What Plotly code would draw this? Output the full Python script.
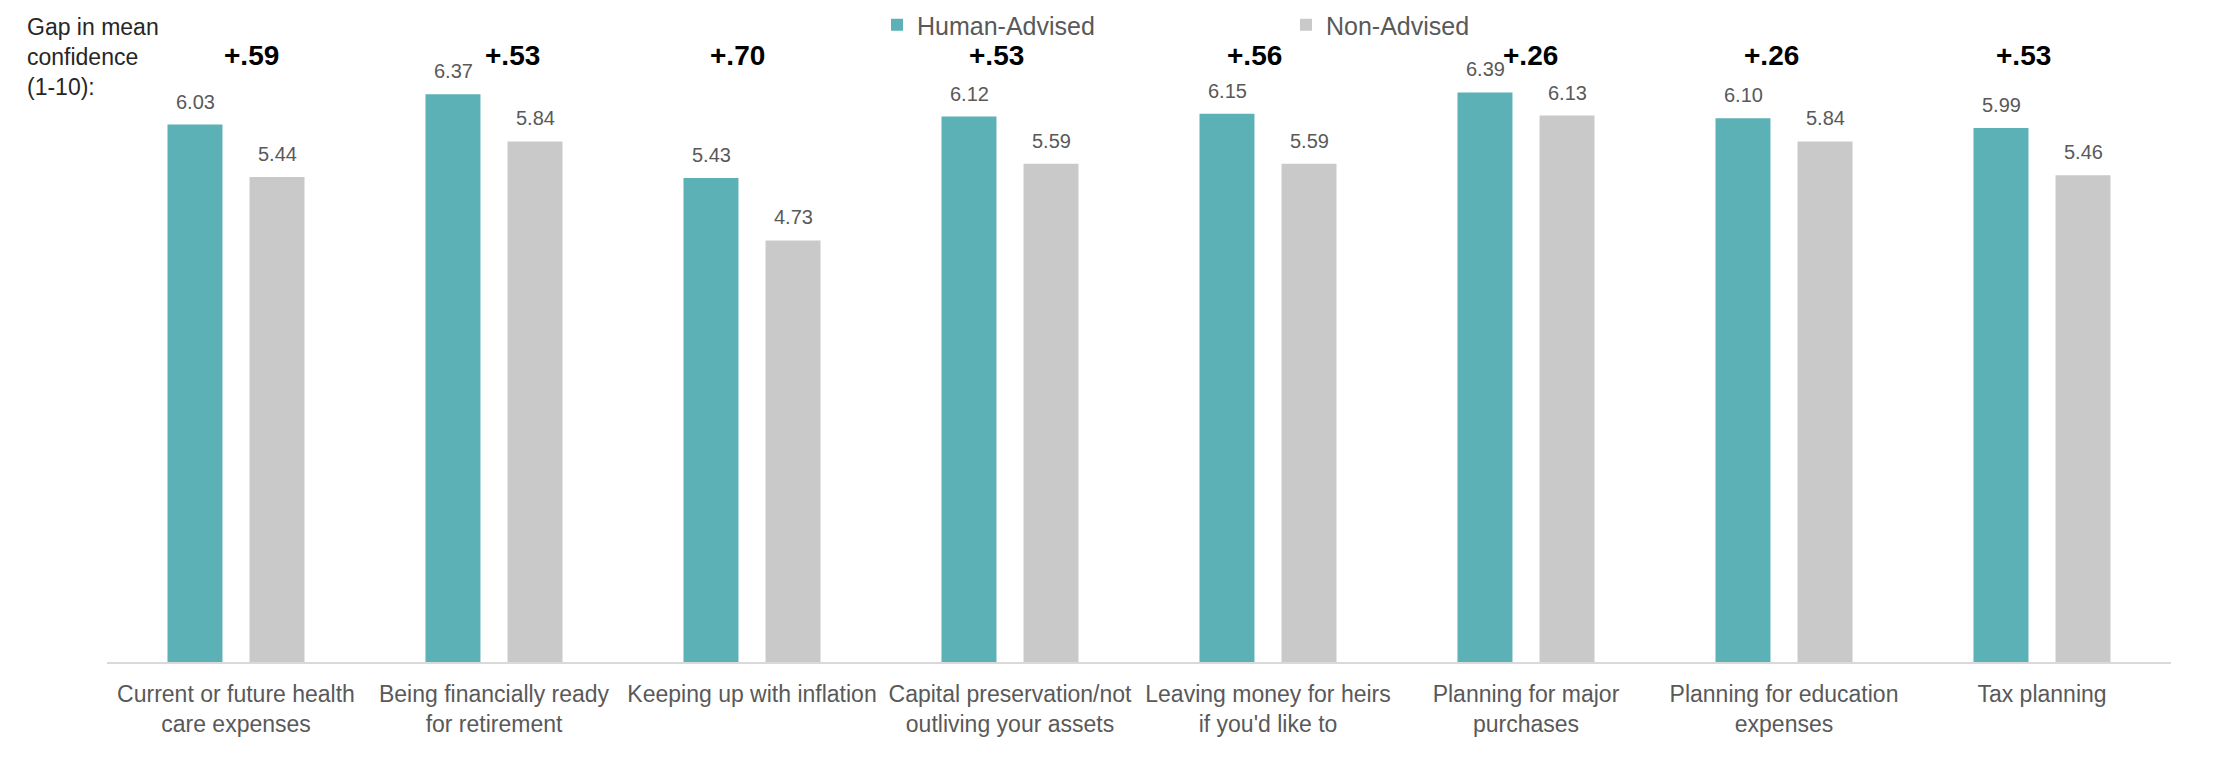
import plotly.graph_objects as go

categories = [
    "Current or future health<br>care expenses",
    "Being financially ready<br>for retirement",
    "Keeping up with inflation",
    "Capital preservation/not<br>outliving your assets",
    "Leaving money for heirs<br>if you'd like to",
    "Planning for major<br>purchases",
    "Planning for education<br>expenses",
    "Tax planning",
]
human_advised = [6.03, 6.37, 5.43, 6.12, 6.15, 6.39, 6.10, 5.99]
non_advised = [5.44, 5.84, 4.73, 5.59, 5.59, 6.13, 5.84, 5.46]
gap_labels = ["+.59", "+.53", "+.70", "+.53", "+.56", "+.26", "+.26", "+.53"]

# styling
GAP_XSHIFT = [15, 18, -15, -14, -14, 4, -13, -19]
TEAL = "#5BB1B5"
GREY = "#C9C9C9"
TXT = "#595959"
FONT = "Arial, Liberation Sans, sans-serif"

W, H = 2232, 758
ML, MR, MT, MB = 107, 61, 0, 96

fig = go.Figure()
fig.add_trace(go.Bar(name="Human-Advised", x=categories, y=human_advised,
                     marker=dict(color=TEAL, line=dict(width=0))))
fig.add_trace(go.Bar(name="Non-Advised", x=categories, y=non_advised,
                     marker=dict(color=GREY, line=dict(width=0))))

ann = []
for c, h, n in zip(categories, human_advised, non_advised):
    ann.append(dict(x=c, y=h, xref="x", yref="y", text=f"{h:.2f}", showarrow=False,
                    xshift=-41, yshift=23, yanchor="middle",
                    font=dict(family=FONT, size=20, color=TXT)))
    ann.append(dict(x=c, y=n, xref="x", yref="y", text=f"{n:.2f}", showarrow=False,
                    xshift=41, yshift=23, yanchor="middle",
                    font=dict(family=FONT, size=20, color=TXT)))
plot_h = H - MT - MB
for c, g, dx in zip(categories, gap_labels, GAP_XSHIFT):
    ann.append(dict(x=c, y=1 - (56 - MT) / plot_h, xref="x", yref="paper", text=f"<b>{g}</b>",
                    showarrow=False, xshift=dx, yanchor="middle",
                    font=dict(family=FONT, size=28, color="#000000")))
ann.append(dict(x=(25 - ML) / (W - ML - MR), y=1 - (12 - MT) / plot_h, xref="paper", yref="paper",
                text="Gap in mean<br>confidence<br>(1-10):", showarrow=False,
                xanchor="left", yanchor="top", align="left",
                font=dict(family=FONT, size=23, color="#262626")))

fig.update_layout(
    width=W, height=H,
    margin=dict(l=ML, r=MR, t=MT, b=MB, pad=0),
    paper_bgcolor="white", plot_bgcolor="white",
    barmode="group", bargap=0.364, bargroupgap=0.33,
    font=dict(family=FONT, size=23, color=TXT),
    showlegend=True,
    legend=dict(orientation="h", x=(877 - ML) / (W - ML - MR), xanchor="left",
                y=1 - (2 - MT) / plot_h, yanchor="top",
                font=dict(family=FONT, size=25, color=TXT),
                entrywidth=364, entrywidthmode="pixels",
                bgcolor="rgba(0,0,0,0)", itemclick=False),
    xaxis=dict(showline=True, linecolor="#D9D9D9", linewidth=2, ticks="",
               ticklabelstandoff=10,
               tickfont=dict(family=FONT, size=23, color=TXT), showgrid=False),
    yaxis=dict(range=[0, 7.427], visible=False, showgrid=False, zeroline=False),
    annotations=ann,
)

fig.write_html("out.html")
